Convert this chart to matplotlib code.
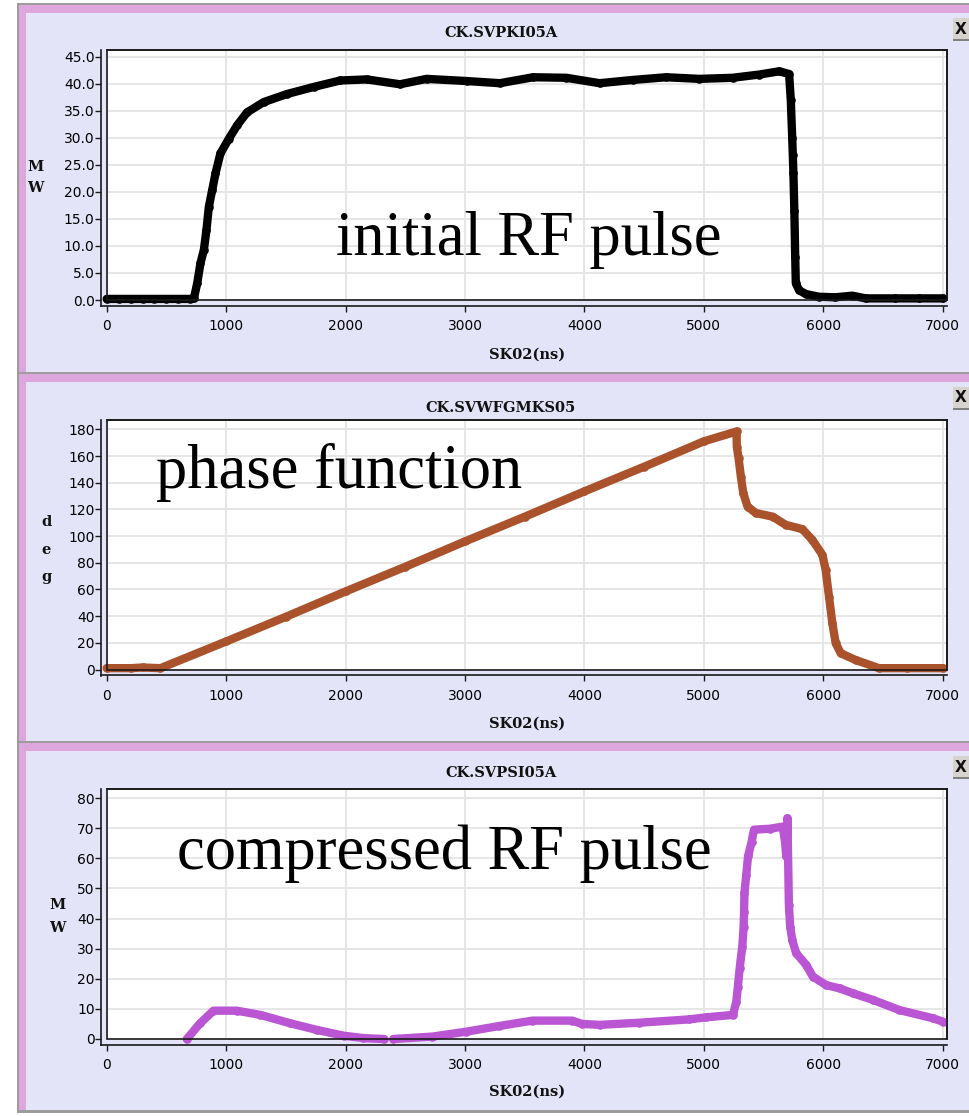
import numpy as np
import matplotlib
matplotlib.use('Agg')
import matplotlib.pyplot as plt
from matplotlib.patches import Rectangle

# ---------------- data ----------------
x_ticks = [0, 1000, 2000, 3000, 4000, 5000, 6000, 7000]

top_title = "CK.SVPKI05A"
top_t = [0, 100, 200, 300, 400, 500, 600, 700, 730, 758, 785, 813, 835, 855, 883,
         911, 952, 1022, 1092, 1175, 1314, 1510, 1732, 1955, 2178, 2456, 2679,
         3013, 3292, 3570, 3849, 4127, 4405, 4684, 4962, 5241, 5464, 5631, 5714,
         5728, 5740, 5745, 5750, 5758, 5765, 5770, 5798, 5854, 5965, 6100, 6243,
         6355, 6600, 6800, 7000]
top_mw = [0.2, 0.2, 0.2, 0.2, 0.2, 0.2, 0.2, 0.2, 0.3, 3.1, 6.8, 9.2, 12.9, 17.2,
          20.3, 23.4, 27.1, 29.8, 32.3, 34.7, 36.6, 38.1, 39.4, 40.6, 40.8, 39.9,
          40.9, 40.5, 40.1, 41.2, 41.1, 40.1, 40.7, 41.2, 40.9, 41.1, 41.7, 42.3,
          41.8, 37.0, 30.0, 26.8, 23.4, 16.4, 8.0, 3.1, 1.8, 1.1, 0.6, 0.5, 0.8,
          0.3, 0.3, 0.3, 0.3]
top_yticks = [0, 5, 10, 15, 20, 25, 30, 35, 40, 45]

mid_title = "CK.SVWFGMKS05"
mid_t = [0, 200, 300, 450, 1000, 1500, 2000, 2500, 3000, 3500, 4000, 4500, 5000,
         5274, 5276, 5291, 5310, 5330, 5366, 5436, 5575, 5686, 5825, 5909, 5993,
         6020, 6048, 6076, 6104, 6146, 6271, 6466, 6700, 7000]
mid_deg = [1, 1, 1.5, 1, 21, 39.5, 58.5, 77, 96, 114.5, 133.5, 152, 171, 178.4,
           167, 158.4, 144.6, 132.2, 122.1, 117.2, 114.6, 108.4, 105.2, 97.1,
           85.9, 74.6, 54.6, 34.7, 19.7, 12.2, 7.1, 1, 1, 1]
mid_yticks = [0, 20, 40, 60, 80, 100, 120, 140, 160, 180]

bot_title = "CK.SVPSI05A"
bot_t = [671, 782, 894, 1089, 1287, 1538, 1761, 1984, 2150, 2320, np.nan, 2400,
         2727, 3006, 3285, 3564, 3898, 3982, 4130, 4456, 4874, 5020, 5244, 5272,
         5285, 5300, 5322, 5333, 5337, 5340, 5355, 5370, 5400, 5420, 5550, 5660,
         5680, 5690, 5700, 5712, 5723, 5740, 5773, 5857, 5913, 6024, 6136, 6247,
         6414, 6638, 6917, 7000]
bot_mw = [0, 5.2, 9.4, 9.4, 8.0, 5.2, 3.0, 1.1, 0.3, 0, np.nan, 0, 0.8, 2.4, 4.3,
          6.1, 6.1, 5.0, 4.7, 5.4, 6.5, 7.2, 8.0, 12.4, 17.4, 23.5, 30.7, 37.3,
          42.3, 48.4, 54.5, 60.6, 65.5, 69.5, 69.8, 70.5, 65.5, 60.6, 73.3, 44.5,
          37.3, 32.9, 28.5, 24.6, 20.7, 17.9, 16.8, 15.2, 13.0, 9.6, 6.9, 5.8]
bot_yticks = [0, 10, 20, 30, 40, 50, 60, 70, 80]

x_label = "SK02(ns)"

# ---------------- figure ----------------
W, H = 969, 1116
fig = plt.figure(figsize=(W / 100, H / 100), dpi=100)
fig.patch.set_facecolor('white')


def fx(x):
    return x / W


def fy(y):
    return 1 - y / H


def rect_px(x0, y0, x1, y1, color, z=-10):
    r = Rectangle((fx(x0), fy(y1)), (x1 - x0) / W, (y1 - y0) / H,
                  transform=fig.transFigure, facecolor=color,
                  edgecolor='none', zorder=z)
    fig.add_artist(r)


GRAY = '#9C9C9C'
PINK = '#DDA6DD'
LAV = '#E4E4F8'
SPINE = '#1A1A1A'
tickfont = dict(family='DejaVu Serif', weight='bold', size=10.5)

panels = [
    dict(T=3, B=375, ax_top=50, ax_bot=300, ylim=46.24, yticks=top_yticks,
         fmt='%.1f', t=top_t, v=top_mw, color='#000000', title=top_title,
         title_y=33, xlabel_y=355, ylab=[('M', 35, 167), ('W', 35, 188)],
         note='initial RF pulse', note_xy=(336, 255)),
    dict(T=372, B=744, ax_top=420, ax_bot=669.5, ylim=187.0, yticks=mid_yticks,
         fmt='%d', t=mid_t, v=mid_deg, color='#A9522C', title=mid_title,
         title_y=408, xlabel_y=724,
         ylab=[('d', 46, 522), ('e', 46, 550), ('g', 46, 577)],
         note='phase function', note_xy=(156, 488)),
    dict(T=741, B=1113, ax_top=789, ax_bot=1039, ylim=83.0, yticks=bot_yticks,
         fmt='%d', t=bot_t, v=bot_mw, color='#BA55D3', title=bot_title,
         title_y=773, xlabel_y=1092, ylab=[('M', 57, 905), ('W', 57, 928)],
         note='compressed RF pulse', note_xy=(177, 869)),
]

AX_L, AX_R = 106.7, 946.7
XMAX = 7000 * (AX_R - AX_L) / (942.7 - AX_L)

for p in panels:
    T, B = p['T'], p['B']
    rect_px(17, T, 980, B, GRAY, z=-12)
    rect_px(19, T + 2, 980, B - 3, PINK, z=-11)
    rect_px(26, T + 10, 980, B - 3, LAV, z=-10)
    # close button
    rect_px(953, T + 15, 980, T + 38, '#808080', z=-9)
    rect_px(953, T + 15, 980, T + 36, '#D6D3CE', z=-8)
    fig.text(fx(961), fy(T + 26), 'X', ha='center', va='center',
             fontsize=11, fontweight='bold', family='DejaVu Sans', color='#111111')

    ax = fig.add_axes([fx(AX_L), fy(p['ax_bot']), (AX_R - AX_L) / W,
                       (p['ax_bot'] - p['ax_top']) / H])
    ax.set_facecolor('white')
    ax.set_xlim(0, XMAX)
    ax.set_ylim(0, p['ylim'])
    ax.set_xticks(x_ticks)
    ax.set_yticks(p['yticks'])
    ax.set_xticklabels([str(v) for v in x_ticks], **tickfont)
    ax.set_yticklabels([p['fmt'] % v for v in p['yticks']], **tickfont)
    ax.grid(True, color='#E4E4E4', lw=1.3, zorder=0)
    ax.set_axisbelow(True)

    for s in ['top', 'right']:
        ax.spines[s].set_color(SPINE)
        ax.spines[s].set_linewidth(1.2)
    ax.spines['left'].set_position(('outward', 4.2))
    ax.spines['bottom'].set_position(('outward', 4.3))
    for s in ['left', 'bottom']:
        ax.spines[s].set_color(SPINE)
        ax.spines[s].set_linewidth(1.2)
    ppy = (p['ax_bot'] - p['ax_top']) / p['ylim']
    ax.spines['left'].set_bounds(-6 / ppy, p['ylim'])
    ax.spines['bottom'].set_bounds(-6 / ((AX_R - AX_L) / XMAX), XMAX)
    ax.add_patch(Rectangle((0, 0), 1, 1, transform=ax.transAxes, fill=False,
                           edgecolor=SPINE, lw=1.2, zorder=4, clip_on=False))

    ax.tick_params(axis='y', direction='out', length=4, width=1.0,
                   color=SPINE, pad=0.5)
    ax.tick_params(axis='x', direction='out', length=4, width=1.0,
                   color=SPINE, pad=5.5)

    ax.plot(p['t'], p['v'], color=p['color'], lw=6, marker='o', ms=6.2,
            mew=0, solid_capstyle='round', solid_joinstyle='round',
            clip_on=False, zorder=3)

    fig.text(fx(p['note_xy'][0]), fy(p['note_xy'][1]), p['note'],
             ha='left', va='baseline', family='Liberation Serif',
             fontsize=45, color='black', zorder=6)

    fig.text(fx(501), fy(p['title_y']), p['title'], ha='center', va='center',
             **tickfont, color='#111111')
    fig.text(fx(527), fy(p['xlabel_y']), x_label, ha='center', va='center',
             **tickfont, color='#111111')
    for ch, lx, ly in p['ylab']:
        fig.text(fx(lx), fy(ly), ch, ha='center', va='center', **tickfont,
                 color='#111111')

fig.savefig('out.png', dpi=100, facecolor='white')
